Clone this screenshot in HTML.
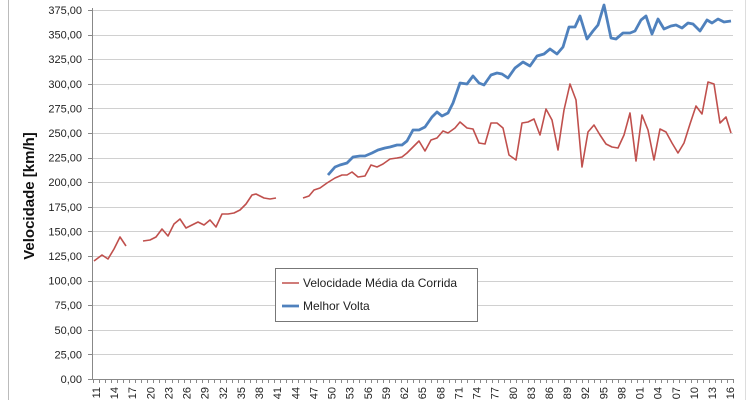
<!DOCTYPE html>
<html><head><meta charset="utf-8"><style>
html,body{margin:0;padding:0;background:#fff;}
svg{display:block;font-family:"Liberation Sans",sans-serif;}
</style></head><body>
<svg width="750" height="400" viewBox="0 0 750 400" xmlns="http://www.w3.org/2000/svg">
<rect x="0" y="0" width="750" height="400" fill="#fff"/>
<line x1="8.5" y1="0" x2="8.5" y2="400" stroke="#bbb"/>
<line x1="745.5" y1="0" x2="745.5" y2="400" stroke="#ddd"/>
<g id="grid" stroke="#d0d0d0" stroke-width="1"></g>
<g id="ylab" font-size="11" fill="#222" text-anchor="end"></g>
<line x1="92.5" y1="8" x2="92.5" y2="379" stroke="#888"/>
<line x1="88" y1="379.5" x2="733" y2="379.5" stroke="#888"/>
<g id="xt" stroke="#888"></g>
<g id="xl" font-size="11" fill="#222"></g>
<text transform="translate(34,196) rotate(-90)" text-anchor="middle" font-size="15" font-weight="bold" fill="#111">Velocidade [km/h]</text>
<polyline fill="none" stroke="#C0504D" stroke-width="1.6" stroke-linejoin="round" points="94,261 102,255 108,259 114,249 120,237 126,246"/>
<polyline fill="none" stroke="#C0504D" stroke-width="1.6" stroke-linejoin="round" points="143,241 150,240 156,237 162,229 168,236 174,224 180,219 186,228 192,225 198,222 204,225 210,220 216,227 222,214 228,214 234,213 240,210 246,204 252,195 256,194 264,198 270,199 276,198"/>
<polyline fill="none" stroke="#C0504D" stroke-width="1.6" stroke-linejoin="round" points="303,198 309,196 314,190 320,188 327,183 335,178 342,175 347,175 352,172 358,177 365,176 371,165 377,167 383,164 390,159 397,158 402,157 407,153 413,147 419,141 425,151 431,140 437,138 443,131 448,133 455,128 460,122 467,128 473,129 479,143 485,144 491,123 497,123 503,128 509,155 516,160 522,123 528,122 534,119 540,135 546,109 552,120 558,150 564,110 570,84 576,100 582,167 588,132 594,125 600,135 606,144 612,147 618,148 624,135 630,113 636,161 642,115 648,130 654,160 660,129 666,132 672,143 678,153 684,143 690,124 696,106 702,114 708,82 714,84 720,123 726,117 731,133"/>
<polyline fill="none" stroke="#4F81BD" stroke-width="2.8" stroke-linejoin="round" points="328,175 335,167 340,165 347,163 353,157 360,156 365,156 372,153 378,150 385,148 390,147 397,145 402,145 407,141 413,130 419,130 425,127 432,117 437,112 442,116 448,113 453,103 460,83 467,84 473,76 479,83 484,85 491,75 497,73 502,74 508,78 515,68 523,62 530,66 537,56 544,54 550,49 557,54 563,47 569,27 575,27 580,16 587,39 593,31 598,25 604,5 611,38 616,39 623,33 630,33 635,31 641,20 646,16 652,34 658,19 664,29 671,26 676,25 682,28 688,23 693,24 700,31 707,20 712,23 718,19 724,22 731,21"/>
<rect x="275.5" y="268.5" width="202" height="53" fill="#fff" stroke="#777"/>
<line x1="282" y1="283" x2="299" y2="283" stroke="#C0504D" stroke-width="1.6"/>
<text x="303" y="287" font-size="12" fill="#222">Velocidade Média da Corrida</text>
<line x1="282" y1="306" x2="299" y2="306" stroke="#4F81BD" stroke-width="2.8"/>
<text x="303" y="310" font-size="12" fill="#222">Melhor Volta</text>
<script>
var g=document.getElementById('grid'),yl=document.getElementById('ylab'),ns='http://www.w3.org/2000/svg';
for(var i=0;i<=15;i++){var y=379-i*24.6;
 if(i>0){var l=document.createElementNS(ns,'line');l.setAttribute('x1',93);l.setAttribute('x2',733);l.setAttribute('y1',Math.round(y)+.5);l.setAttribute('y2',Math.round(y)+.5);g.appendChild(l);}
 var t=document.createElementNS(ns,'text');t.setAttribute('x',82);t.setAttribute('y',y+4);t.textContent=(i*25)+',00';yl.appendChild(t);
 var k=document.createElementNS(ns,'line');k.setAttribute('x1',88);k.setAttribute('x2',93);k.setAttribute('y1',Math.round(y)+.5);k.setAttribute('y2',Math.round(y)+.5);k.setAttribute('stroke','#888');g.appendChild(k);}
var xt=document.getElementById('xt'),xl=document.getElementById('xl');
for(var j=0;j<=106;j++){var x=Math.round(93+j*6.04)+.5;var l=document.createElementNS(ns,'line');l.setAttribute('x1',x);l.setAttribute('x2',x);l.setAttribute('y1',379);l.setAttribute('y2',383);xt.appendChild(l);}
for(var j=0;j<106;j+=3){var yr=(1911+j)%100;var s=(yr<10?'0':'')+yr;var cx=96+j*6.04+4;var t=document.createElementNS(ns,'text');t.setAttribute('transform','translate('+cx+',387) rotate(-90)');t.setAttribute('text-anchor','end');t.textContent=s;xl.appendChild(t);}
</script>
</svg>
</body></html>
